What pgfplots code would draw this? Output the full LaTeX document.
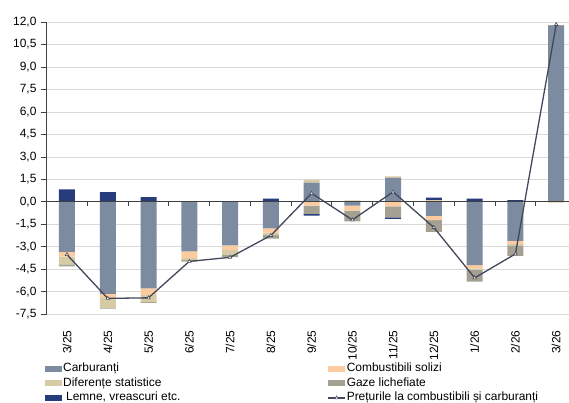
\documentclass[border=0pt]{standalone}
\usepackage{fontspec}
\setmainfont{Liberation Sans}
\usepackage{pgfplots}
\usepackage{pgfplotstable}
\pgfplotsset{compat=1.18}
\definecolor{carbc}{HTML}{7D8BA0}
\definecolor{combc}{HTML}{FCCBA0}
\definecolor{difc}{HTML}{D6CBA5}
\definecolor{gazec}{HTML}{A4A192}
\definecolor{lemnec}{HTML}{263C7C}
\definecolor{linec}{HTML}{40485A}
\definecolor{gridc}{HTML}{D9D9D9}
\definecolor{axisc}{HTML}{404040}

% contributions per month (pp); price = total line
\pgfplotstableread{
x carb comb dif gaze lemne price
0 -3.33 -0.32 -0.52 -0.14 0.84 -3.52
1 -6.14 -0.26 -0.67 -0.05 0.65 -6.44
2 -5.77 -0.44 -0.48 -0.05 0.31 -6.40
3 -3.31 -0.44 -0.13 -0.11 0.00 -3.97
4 -2.91 -0.29 -0.33 -0.16 0.00 -3.70
5 -1.76 -0.29 -0.16 -0.24 0.22 -2.24
6 1.29 -0.25 0.17 -0.55 -0.12 0.57
7 -0.25 -0.33 0.10 -0.72 0.00 -1.20
8 1.60 -0.30 0.10 -0.73 -0.11 0.67
9 -0.93 -0.29 0.12 -0.78 0.17 -1.71
10 -4.22 -0.22 -0.08 -0.80 0.22 -5.07
11 -2.60 -0.22 -0.08 -0.70 0.12 -3.47
12 11.78 0.05 -0.05 0.00 0.00 11.83
}\data

\pgfplotsset{
  base/.style={
    width=530bp, height=292.3bp, scale only axis,
    xmin=-0.5, xmax=12.5, ymin=-7.5, ymax=12,
    bar width=16bp,
  },
  barleg/.style={legend image code/.code={\fill[##1] (0bp,-3bp) rectangle (17bp,3bp);}},
}

\begin{document}
\fontsize{12}{14}\selectfont
\begin{tikzpicture}
% negative parts, grid, y axis, month labels
\begin{axis}[base, ybar stacked,
  axis x line*=bottom, axis y line*=left,
  axis line style={-},
  x axis line style={draw=none},
  y axis line style={draw=axisc, line width=0.9bp},
  xtick={0,...,12},
  xticklabels={3/25,4/25,5/25,6/25,7/25,8/25,9/25,10/25,11/25,12/25,1/26,2/26,3/26},
  x tick style={draw=none},
  xticklabel style={rotate=90, anchor=east},
  xticklabel shift=6bp,
  ytick={-7.5,-6,...,12},
  ymajorgrids, grid style={gridc, line width=0.8bp},
  y tick style={axisc, line width=0.8bp},
  tick align=outside, major tick length=6bp,
  /pgf/number format/assume math mode=true,
  yticklabel style={/pgf/number format/.cd, fixed, fixed zerofill, precision=1, use comma},
]
\addplot[fill=carbc, draw=none] table[x=x, y expr={min(\thisrow{carb},0)}] {\data};
\addplot[fill=combc, draw=none] table[x=x, y expr={min(\thisrow{comb},0)}] {\data};
\addplot[fill=difc, draw=none] table[x=x, y expr={min(\thisrow{dif},0)}] {\data};
\addplot[fill=gazec, draw=none] table[x=x, y expr={min(\thisrow{gaze},0)}] {\data};
\addplot[fill=lemnec, draw=none] table[x=x, y expr={min(\thisrow{lemne},0)}] {\data};
\end{axis}
% positive parts
\begin{axis}[base, ybar stacked, hide axis]
\addplot[fill=carbc, draw=none] table[x=x, y expr={max(\thisrow{carb},0)}] {\data};
\addplot[fill=combc, draw=none] table[x=x, y expr={max(\thisrow{comb},0)}] {\data};
\addplot[fill=difc, draw=none] table[x=x, y expr={max(\thisrow{dif},0)}] {\data};
\addplot[fill=gazec, draw=none] table[x=x, y expr={max(\thisrow{gaze},0)}] {\data};
\addplot[fill=lemnec, draw=none] table[x=x, y expr={max(\thisrow{lemne},0)}] {\data};
\end{axis}
% zero line, price line, legend
\begin{axis}[base,
  axis x line=middle, axis y line=none,
  axis line style={-, draw=axisc, line width=0.9bp},
  xtick={0.5,1.5,...,11.5}, xticklabels={},
  x tick style={axisc, line width=1bp},
  tick align=outside, major tick length=4bp,
  ytick=\empty,
  legend cell align=left,
  legend columns=2,
  legend style={at={(axis description cs:0,0)}, anchor=north west,
    xshift=-1.6bp, yshift=-47.4bp, draw=none, fill=none, inner sep=0pt,
    nodes={inner xsep=1bp, inner ysep=1bp, text height=9bp, text depth=3bp},
    row sep=0.5bp,
    /tikz/every even column/.append style={column sep=146bp}},
]
\addlegendimage{barleg, fill=carbc, draw=none}
\addlegendentry{Carburanți}
\addlegendimage{barleg, fill=combc, draw=none}
\addlegendentry{Combustibili solizi}
\addlegendimage{barleg, fill=difc, draw=none}
\addlegendentry{Diferențe statistice}
\addlegendimage{barleg, fill=gazec, draw=none}
\addlegendentry{Gaze lichefiate}
\addlegendimage{barleg, fill=lemnec, draw=none}
\addlegendentry{\hspace{3bp}Lemne, vreascuri etc.}
\addplot[linec, line width=1.3bp, mark=triangle*, mark size=2bp,
  mark options={fill=white, line width=0.6bp, solid}]
  table[x=x, y=price] {\data};
\addlegendentry{Prețurile la combustibili și carburanți}
\end{axis}
\pgfresetboundingbox
\path[use as bounding box] (-46.6bp,-88.7bp) rectangle (522.4bp,314.3bp);
\end{tikzpicture}
\end{document}
